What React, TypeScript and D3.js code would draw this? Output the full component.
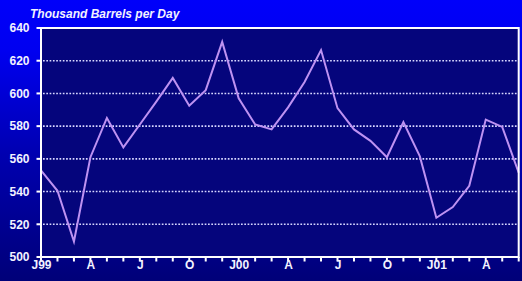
import React from "react";
import * as d3 from "d3";

const months: number[] = Array.from({ length: 30 }, (_, i) => i);
const values: number[] = [
  553, 540.5, 509.5, 561, 585, 567, 581, 595, 609.5, 592.5, 602, 631.5,
  597, 581, 578, 591.5, 607, 626.5, 591, 578, 571, 561, 582.5, 561.5,
  524, 530.5, 543.5, 584, 579.5, 551.5,
];
const yTicks: number[] = [500, 520, 540, 560, 580, 600, 620, 640];
const xLabelIdx: number[] = [0, 3, 6, 9, 12, 15, 18, 21, 24, 27];
const xLabels: string[] = ["J99", "A", "J", "O", "J00", "A", "J", "O", "J01", "A"];
const title = "Thousand Barrels per Day";

const W = 522;
const H = 281;
const L = 41;
const R = 518.7;
const T = 28;
const B = 257;

export default function App() {
  const x = d3.scaleLinear().domain([0, 29]).range([L, R]);
  const y = d3.scaleLinear().domain([500, 640]).range([B, T]);
  const line = d3
    .line<number>()
    .x((_, i) => x(months[i]))
    .y((d) => y(d));
  const font = "'Liberation Sans', Arial, sans-serif";
  const txt = "#F2F2FF";
  return (
    <svg
      width={W}
      height={H}
      style={{ position: "fixed", left: 0, top: 0, display: "block" }}
    >
      <defs>
        <linearGradient id="bg" x1="0" y1="0" x2="0" y2="1">
          <stop offset="0" stopColor="#0000FA" />
          <stop offset="0.18" stopColor="#0000F0" />
          <stop offset="0.55" stopColor="#0000B0" />
          <stop offset="1" stopColor="#000078" />
        </linearGradient>
      </defs>
      <rect x={0} y={0} width={W} height={H} fill="url(#bg)" />
      <rect x={L} y={T} width={R - L} height={B - T} fill="#05057C" />
      <text
        x={30}
        y={18.3}
        fill={txt}
        fontFamily={font}
        fontSize={12}
        fontWeight="bold"
        fontStyle="italic"
      >
        {title}
      </text>
      {yTicks.slice(1, -1).map((t) => (
        <line
          key={"g" + t}
          x1={L + 2}
          x2={R - 2}
          y1={y(t)}
          y2={y(t)}
          stroke="#D8D8FF"
          strokeWidth={1.6}
          strokeDasharray="1.7 1.6"
        />
      ))}
      {yTicks.map((t) => (
        <g key={"y" + t}>
          <line x1={L - 4.5} x2={L} y1={y(t)} y2={y(t)} stroke="#fff" strokeWidth={2} />
          <text
            x={29.5}
            y={y(t) + 4.3}
            textAnchor="end"
            fill={txt}
            fontFamily={font}
            fontSize={12}
            fontWeight="bold"
          >
            {t}
          </text>
        </g>
      ))}
      {months.map((m) => (
        <line
          key={"xt" + m}
          x1={x(m)}
          x2={x(m)}
          y1={B}
          y2={B + 4.5}
          stroke="#fff"
          strokeWidth={2}
        />
      ))}
      {xLabelIdx.map((m, i) => (
        <text
          key={"xl" + i}
          x={x(m) + 0.5}
          y={268.5}
          textAnchor="middle"
          fill={txt}
          fontFamily={font}
          fontSize={12}
          fontWeight="bold"
        >
          {xLabels[i]}
        </text>
      ))}
      <path
        d={line(values) || ""}
        fill="none"
        stroke="#BE92F2"
        strokeWidth={2}
        strokeLinejoin="miter"
      />
      <path
        d={`M${L},${B}V${T}H${R}V${B}H${L}`}
        fill="none"
        stroke="#fff"
        strokeWidth={2}
      />
    </svg>
  );
}
